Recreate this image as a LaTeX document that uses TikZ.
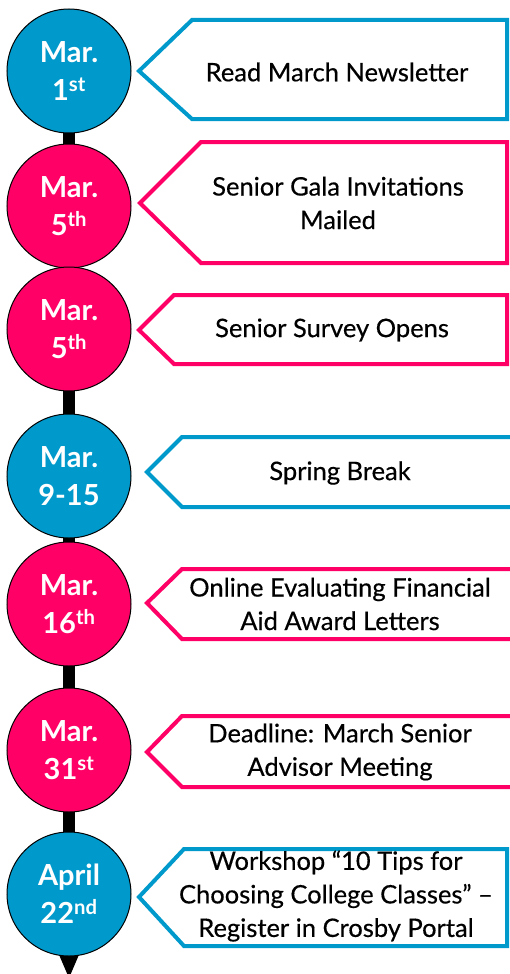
\documentclass[tikz,border=0pt]{standalone}
\usepackage{fontspec}
\setmainfont{Lato}
\definecolor{tlblue}{HTML}{0099CC}
\definecolor{tlpink}{HTML}{FF0066}

\begin{document}
\begin{tikzpicture}[x=1pt,y=-1pt,
  day/.style={circle,draw=black,line width=1pt,minimum size=124pt,inner sep=0pt,
    text=white,align=center,font=\fontsize{29}{38}\selectfont\bfseries},
  note/.style={align=center,text=black,font=\fontsize{25.5}{33.5}\selectfont\addfontfeature{FakeBold=0.4}},
  flag/.style={line width=4pt,fill=white,line join=miter}]

\useasboundingbox (0,0) rectangle (510,974);

% Zeitachse
\coordinate (start) at (69,71);
\coordinate (base) at (69,950);
\coordinate (tip) at (69,978);
\draw[line width=12pt] (start) -- (base);
\fill ([xshift=-12pt]base) -- ([xshift=12pt]base) -- (tip) -- cycle;

% Termine
\node[day,fill=tlblue] (d1) at (69,71) {Mar.\\1\textsuperscript{st}};
\node[day,fill=tlpink] (d2) at (69,206) {Mar.\\5\textsuperscript{th}};
\node[day,fill=tlpink] (d3) at (69,329) {Mar.\\5\textsuperscript{th}};
\node[day,fill=tlblue] (d4) at (69,476) {Mar.\\9-15};
\node[day,fill=tlpink] (d5) at (69,604) {Mar.\\16\textsuperscript{th}};
\node[day,fill=tlpink] (d6) at (69,750) {Mar.\\31\textsuperscript{st}};
\node[day,fill=tlblue] (d7) at (69,894) {April\\22\textsuperscript{nd}};

% Fahnen
\draw[flag,draw=tlblue] (139,71) -- (192,20) -- (507,20) -- (507,119) -- (192,119) -- cycle;
\node[note] (n1) at (337,72) {Read March Newsletter};

\draw[flag,draw=tlpink] (140,203) -- (201,142) -- (507,142) -- (507,263) -- (201,263) -- cycle;
\node[note] (n2) at (338,203) {Senior Gala Invitations\\Mailed};

\draw[flag,draw=tlpink] (139,330) -- (174,295) -- (507,295) -- (507,364) -- (174,364) -- cycle;
\node[note] (n3) at (332,330) {Senior Survey Opens};

\draw[flag,draw=tlblue] (147,472) -- (182,437) -- (520,437) -- (520,507) -- (182,507) -- cycle;
\node[note] (n4) at (340,473) {Spring Break};

\draw[flag,draw=tlpink] (147,603) -- (182,569) -- (520,569) -- (520,639) -- (182,639) -- cycle;
\node[note] (n5) at (340,604) {Online Evaluating Financial\\Aid Award Letters};

\draw[flag,draw=tlpink] (147,752) -- (182,716) -- (520,716) -- (520,787) -- (182,787) -- cycle;
\node[note] (n6) at (340,752) {Deadline: March Senior\\Advisor Meeting};

\draw[flag,draw=tlblue] (139,897) -- (184,849) -- (507,849) -- (507,946) -- (184,946) -- cycle;
\node[note] (n7) at (336,896) {Workshop “10 Tips for\\Choosing College Classes” –\\Register in Crosby Portal};

\end{tikzpicture}
\end{document}
